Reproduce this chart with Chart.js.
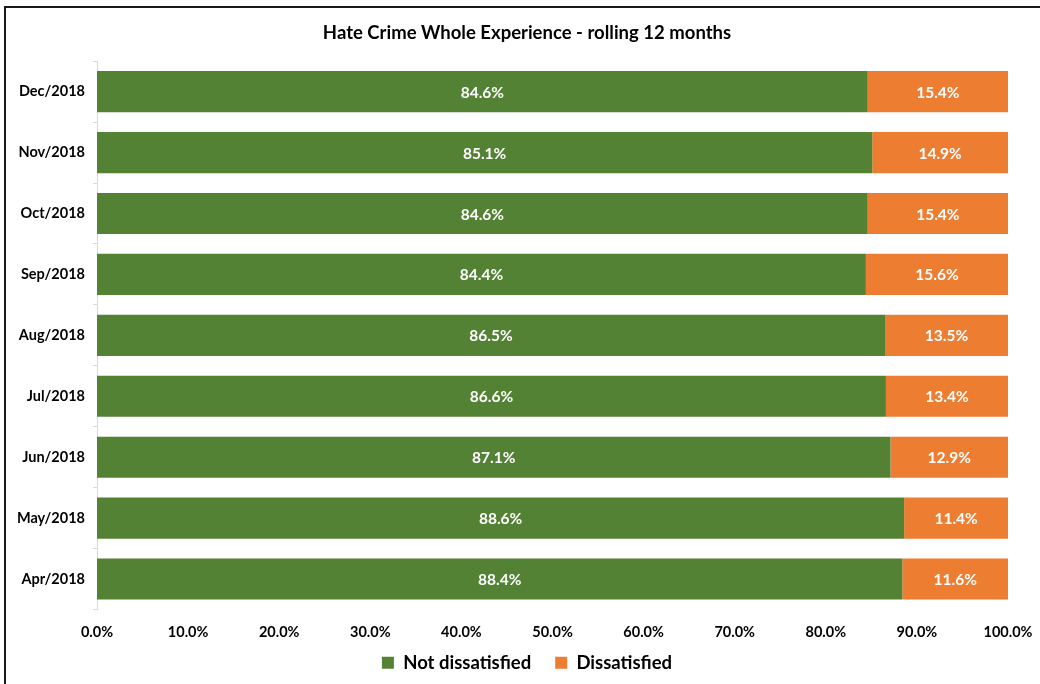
<!DOCTYPE html>
<html>
<head>
<meta charset="utf-8">
<script src="https://cdn.jsdelivr.net/npm/chart.js@4/dist/chart.umd.min.js"></script>
<style>
  html, body { margin: 0; padding: 0; background: #fff; }
  #wrap { width: 1040px; height: 684px; }
</style>
</head>
<body>
<div id="wrap"><canvas id="hateChart" width="1040" height="684"></canvas></div>
<script>
// Months, top to bottom as in the chart
const months = ['Dec/2018', 'Nov/2018', 'Oct/2018', 'Sep/2018', 'Aug/2018', 'Jul/2018', 'Jun/2018', 'May/2018', 'Apr/2018'];
const notDissatisfied = [84.6, 85.1, 84.6, 84.4, 86.5, 86.6, 87.1, 88.6, 88.4];
const dissatisfied = [15.4, 14.9, 15.4, 15.6, 13.5, 13.4, 12.9, 11.4, 11.6];
const xTicks = [0, 10, 20, 30, 40, 50, 60, 70, 80, 90, 100];

const FONT = 'Lato, "Open Sans", sans-serif';

// White page + outer frame like the Excel chart border
const framePlugin = {
    id: 'frame',
    beforeDraw(chart) {
        const ctx = chart.ctx;
        ctx.save();
        ctx.fillStyle = '#fff';
        ctx.fillRect(0, 0, chart.width, chart.height);
        ctx.strokeStyle = '#1a1a1a';
        ctx.lineWidth = 2;
        ctx.strokeRect(5, 7, chart.width + 20, chart.height + 20);
        ctx.restore();
    }
};

// Percent labels in the middle of each bar segment
const barLabels = {
    id: 'barLabels',
    afterDatasetsDraw(chart) {
        const ctx = chart.ctx;
        ctx.save();
        ctx.font = 'bold 15.5px ' + FONT;
        ctx.fillStyle = '#fff';
        ctx.textAlign = 'center';
        ctx.textBaseline = 'middle';
        chart.data.datasets.forEach((ds, i) => {
            chart.getDatasetMeta(i).data.forEach((bar, j) => {
                const cx = (bar.x + bar.base) / 2;
                ctx.fillText(ds.data[j].toFixed(1) + '%', cx, bar.y + 1);
            });
        });
        ctx.restore();
    }
};

// labels reach past their (tightly sized) axis boxes, so skip the label clip
const noLabelClip = s => { s._computeLabelArea = () => undefined; };

const ctx = document.getElementById('hateChart').getContext('2d');
const hateChart = new Chart(ctx, {
    type: 'bar',
    data: {
        labels: months,
        datasets: [{
            label: 'Not dissatisfied',
            data: notDissatisfied,
            backgroundColor: '#548235',
            barPercentage: 0.675,
            categoryPercentage: 1
        }, {
            label: 'Dissatisfied',
            data: dissatisfied,
            backgroundColor: '#ED7D31',
            barPercentage: 0.675,
            categoryPercentage: 1
        }]
    },
    options: {
        indexAxis: 'y',
        responsive: false,
        animation: false,
        layout: { padding: { left: 46, right: 32, top: 0, bottom: 2 } },
        plugins: {
            title: {
                display: true,
                text: 'Hate Crime Whole Experience - rolling 12 months',
                color: '#000',
                font: { family: FONT, size: 18.5, weight: 'bold' },
                padding: { top: 22, bottom: 17 }
            },
            legend: {
                position: 'bottom',
                labels: {
                    color: '#000',
                    font: { family: FONT, size: 18.5, weight: 'bold' },
                    boxWidth: 12,
                    boxHeight: 12,
                    padding: 24
                }
            },
            tooltip: { enabled: false }
        },
        scales: {
            x: {
                stacked: true,
                min: 0,
                max: 100,
                afterBuildTicks: s => { s.ticks = xTicks.map(v => ({ value: v })); },
                afterFit: s => { s.height = 20; s.paddingLeft = 0; s.paddingRight = 0; },
                afterUpdate: noLabelClip,
                grid: { display: false },
                border: { display: false },
                ticks: {
                    color: '#000',
                    font: { family: FONT, size: 14.5, weight: 'bold' },
                    padding: 6,
                    maxRotation: 0,
                    callback: v => v.toFixed(1) + '%'
                }
            },
            y: {
                stacked: true,
                afterFit: s => { s.width = 51; },
                afterUpdate: noLabelClip,
                grid: {
                    drawOnChartArea: false,
                    drawTicks: true,
                    tickLength: 4,
                    color: '#d9d9d9'
                },
                border: { display: true, color: '#d9d9d9' },
                ticks: {
                    color: '#000',
                    font: { family: FONT, size: 14.5, weight: 'bold' },
                    padding: 8
                }
            }
        }
    },
    plugins: [framePlugin, barLabels]
});
</script>
</body>
</html>
